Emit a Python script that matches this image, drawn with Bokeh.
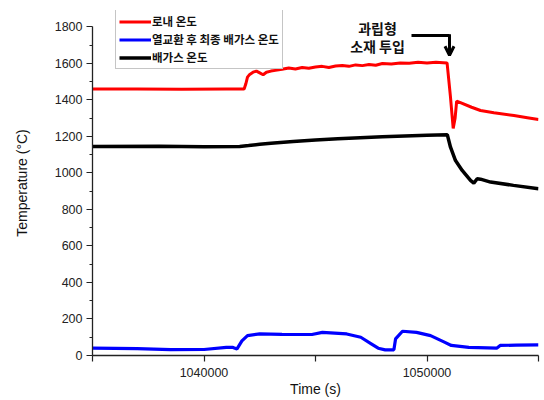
from bokeh.plotting import figure
from bokeh.models import (Range1d, FixedTicker, Legend, LegendItem, Label, Arrow,
                          OpenHead, ColumnDataSource)
from bokeh.embed import file_html
from bokeh.resources import INLINE

# ---- data ----
red_t = [1035000, 1037000, 1039000, 1041000, 1041800, 1041880, 1041950, 1042050, 1042200,
         1042350, 1042500, 1042650, 1042800, 1043000, 1043200, 1043500, 1043800, 1044100,
         1044400, 1044700, 1045000, 1045300, 1045600, 1045900, 1046200, 1046500, 1046800,
         1047100, 1047400, 1047700, 1048000, 1048400, 1048800, 1049200, 1049600, 1050000,
         1050400, 1050900, 1051050, 1051175, 1051260, 1051330, 1051500, 1052000, 1052400,
         1053000, 1053900, 1054500, 1055000]
red_v = [1460, 1460, 1458, 1460, 1460, 1490, 1525, 1540, 1552, 1558, 1548, 1538, 1552, 1558,
         1562, 1568, 1575, 1570, 1578, 1574, 1580, 1584, 1578, 1586, 1589, 1584, 1592, 1588,
         1594, 1590, 1600, 1597, 1603, 1601, 1606, 1603, 1606, 1603, 1420, 1244, 1300, 1393,
         1385, 1360, 1342, 1330, 1315, 1303, 1293]

blue_t = [1035000, 1037000, 1038500, 1040000, 1041000, 1041300, 1041480, 1041700, 1041950,
          1042500, 1043500, 1044840, 1045310, 1046400, 1047030, 1047500, 1047810, 1048125,
          1048515, 1048590, 1048900, 1049530, 1050160, 1050780, 1051090, 1051875, 1053125,
          1053280, 1054000, 1055000]
blue_v = [40, 38, 32, 33, 45, 44, 36, 80, 109, 118, 116, 115, 127, 118, 100, 64, 40, 31,
          31, 91, 133, 127, 109, 73, 55, 45, 40, 55, 57, 58]

black_t = [1035000, 1038000, 1040000, 1041600, 1042000, 1042500, 1043000, 1044000, 1045000,
           1046000, 1047000, 1048000, 1049000, 1050000, 1050910, 1051054, 1051278, 1051578,
           1051951, 1052099, 1052250, 1052399, 1052848, 1053879, 1055000]
black_v = [1145, 1146, 1143, 1145, 1150, 1157, 1163, 1172, 1180, 1187, 1193, 1198, 1203,
           1207, 1210, 1141, 1068, 1014, 959, 944, 968, 966, 950, 932, 913]

series_names = ["로내 온도", "열교환 후 최종 배가스 온도", "배가스 온도"]
x_ticks = [1035000, 1040000, 1045000, 1050000, 1055000]
x_tick_labels = {1035000: "", 1040000: "1040000", 1045000: "", 1050000: "1050000", 1055000: ""}
y_ticks = [0, 200, 400, 600, 800, 1000, 1200, 1400, 1600, 1800]

FONT = "Liberation Sans"
KFONT = "Noto Sans CJK KR"

p = figure(width=544, height=400, output_backend="svg", toolbar_location=None,
           x_range=Range1d(1035000, 1055000), y_range=Range1d(0, 1890),
           min_border_left=92, min_border_right=6, min_border_top=10, min_border_bottom=45)
p.outline_line_color = None
p.xgrid.visible = False
p.ygrid.visible = False
p.background_fill_color = "white"

r_red = p.line(red_t, red_v, line_color="#ff0000", line_width=3)
r_blue = p.line(blue_t, blue_v, line_color="#0000ff", line_width=3.2)
r_black = p.line(black_t, black_v, line_color="#000000", line_width=3.5)

# axes
for ax in (p.xaxis[0], p.yaxis[0]):
    ax.axis_line_width = 1.3
    ax.axis_line_color = "#222222"
    ax.major_tick_line_color = "#222222"
    ax.minor_tick_line_color = "#222222"
    ax.major_tick_line_width = 1.2
    ax.minor_tick_line_width = 1.2
    ax.major_tick_in = 0
    ax.minor_tick_in = 0
    ax.major_label_text_font = FONT
    ax.major_label_text_font_size = "12.5px"
    ax.major_label_text_color = "#222222"
    ax.axis_label_text_font = FONT
    ax.axis_label_text_font_size = "14px"
    ax.axis_label_text_font_style = "normal"
    ax.axis_label_text_color = "#111111"

xa = p.xaxis[0]
xa.ticker = FixedTicker(ticks=x_ticks)
xa.major_label_overrides = x_tick_labels
xa.major_tick_out = 6
xa.minor_tick_out = 0
xa.axis_label = "Time (s)"
xa.major_label_standoff = 6
xa.axis_label_standoff = 1

ya = p.yaxis[0]
ya.ticker = FixedTicker(ticks=y_ticks, minor_ticks=[v + 100 for v in y_ticks[:-1]])
ya.bounds = (0, 1800)
ya.major_tick_out = 6
ya.minor_tick_out = 3
ya.axis_label = "Temperature (°C)"
ya.major_label_standoff = 4
ya.axis_label_standoff = 22

legend = Legend(items=[LegendItem(label=series_names[0], renderers=[r_red]),
                       LegendItem(label=series_names[1], renderers=[r_blue]),
                       LegendItem(label=series_names[2], renderers=[r_black])],
                location=(23, 286), orientation="vertical",
                label_text_font=KFONT, label_text_font_size="11.5px",
                label_text_font_style="bold", label_text_color="#111111",
                glyph_width=32, glyph_height=15, label_height=15, label_standoff=1,
                spacing=2, padding=3, margin=0,
                border_line_color="#8c8c8c", border_line_width=1,
                background_fill_color="white", background_fill_alpha=1)
p.add_layout(legend, "center")

# annotation
p.add_layout(Label(x=1047780, y=1792, text="과립형", text_font=KFONT, text_font_size="14px",
                   text_font_style="bold", text_align="center", text_baseline="middle",
                   text_color="#111111"))
p.add_layout(Label(x=1047780, y=1693, text="소재 투입", text_font=KFONT, text_font_size="14px",
                   text_font_style="bold", text_align="center", text_baseline="middle",
                   text_color="#111111"))
seg = ColumnDataSource(dict(x0=[1049305], y0=[1753], x1=[1051009], y1=[1753]))
p.segment(x0="x0", y0="y0", x1="x1", y1="y1", source=seg, line_color="black", line_width=3)
p.add_layout(Arrow(x_start=1051009, y_start=1760, x_end=1051009, y_end=1645,
                   line_color="black", line_width=3,
                   end=OpenHead(size=9, line_width=3, line_color="black")))

open("out.html", "w").write(file_html(p, INLINE))
